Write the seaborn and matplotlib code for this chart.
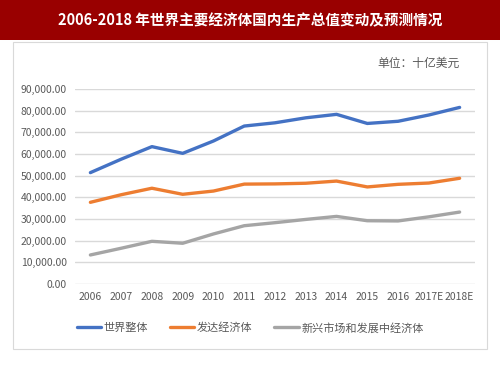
import numpy as np
import pandas as pd
import matplotlib
matplotlib.use("Agg")
import matplotlib.pyplot as plt
from matplotlib.patches import Rectangle
from matplotlib.ticker import FuncFormatter
import seaborn as sns

years = ["2006", "2007", "2008", "2009", "2010", "2011", "2012",
         "2013", "2014", "2015", "2016", "2017E", "2018E"]
world = [51400, 57600, 63400, 60300, 66000, 72900, 74400,
         76700, 78300, 74100, 75100, 78000, 81500]
advanced = [37700, 41200, 44200, 41400, 42900, 46100, 46200,
            46500, 47500, 44800, 46000, 46600, 48800]
emerging = [13400, 16500, 19700, 18800, 23100, 26900, 28300,
            29800, 31200, 29200, 29100, 31000, 33200]
series_names = ["世界整体", "发达经济体", "新兴市场和发展中经济体"]
colors = ["#4472C4", "#ED7D31", "#A5A5A5"]

df = pd.DataFrame({
    "year": years * 3,
    "value": world + advanced + emerging,
    "series": [series_names[0]] * 13 + [series_names[1]] * 13 + [series_names[2]] * 13,
})
df["x"] = np.tile(np.arange(len(years)), 3)

sns.set_theme(style="white")
plt.rcParams["font.family"] = ["Noto Sans CJK SC", "DejaVu Sans"]

fig = plt.figure(figsize=(5, 3.75), dpi=100)

# title banner and outer box
fig.patches.append(Rectangle((0, 1 - 40 / 375), 1, 40 / 375, transform=fig.transFigure,
                             facecolor="#990000", edgecolor="none", zorder=-2))
fig.patches.append(Rectangle((13 / 500, 1 - 349 / 375), 474 / 500, 307 / 375,
                             transform=fig.transFigure, facecolor="white",
                             edgecolor="#D9D9D9", linewidth=0.8, zorder=-2))
fig.text(0.5, 1 - 20 / 375, "2006-2018 年世界主要经济体国内生产总值变动及预测情况",
         color="white", fontsize=10.5, fontweight="bold", ha="center", va="center")
fig.text(460 / 500, 1 - 63 / 375, "单位：十亿美元", color="#595959",
         fontsize=8.5, ha="right", va="center")

ax = fig.add_axes([75 / 500, 1 - 284 / 375, 400 / 500, 195 / 375])
ax.set_facecolor("none")
sns.lineplot(data=df, x="x", y="value", hue="series", palette=colors,
             linewidth=2.4, ax=ax, legend=False)

ax.set_xlim(-0.5, len(years) - 0.5)
ax.set_ylim(0, 90000)
ax.set_yticks(np.arange(0, 90001, 10000))
ax.yaxis.set_major_formatter(FuncFormatter(lambda v, p: f"{v:,.2f}"))
ax.set_xticks(np.arange(len(years)))
ax.set_xticklabels(years)
ax.tick_params(axis="both", labelsize=7.5, colors="#595959", length=0, pad=6)
ax.grid(axis="y", color="#D9D9D9", linewidth=1)
ax.set_axisbelow(True)
for s in ax.spines.values():
    s.set_visible(False)
ax.set_xlabel("")
ax.set_ylabel("")

handles = [plt.Line2D([], [], color=c, linewidth=2.4) for c in colors]
fig.legend(handles, series_names, loc="center", bbox_to_anchor=(0.5, 1 - 328 / 375),
           ncol=3, frameon=False, fontsize=8, handlelength=2.2, handletextpad=0.2,
           columnspacing=2.0, labelcolor="#595959")

fig.savefig("out.png", dpi=100)
